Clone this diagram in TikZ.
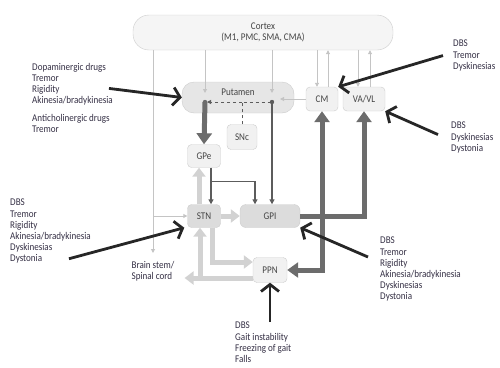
\documentclass[tikz,border=0pt]{standalone}
\usepackage{fontspec}
\setmainfont[FakeStretch=0.88]{Carlito}
\usepackage{tikz}
\usetikzlibrary{arrows.meta,calc}
\definecolor{cortexfill}{HTML}{F5F5F5}
\definecolor{putfill}{HTML}{E6E6E6}
\definecolor{corefill}{HTML}{DCDCDC}
\definecolor{boxfill}{HTML}{F1F1F1}
\definecolor{boxline}{HTML}{CCCCCC}
\definecolor{lightline}{HTML}{C4C4C4}
\definecolor{paleline}{HTML}{D2D2D2}
\definecolor{darkline}{HTML}{6C6C6C}
\definecolor{midline}{HTML}{5C5C5C}
\definecolor{notetext}{HTML}{342F44}
\definecolor{labeltext}{HTML}{444444}
\tikzset{region/.style = {shape=rectangle,rounded corners=4pt,draw=boxline,fill=boxfill,text=labeltext,inner sep=0pt,minimum height=23pt}}
\tikzset{note/.style = {align=left,anchor=north west,text=notetext,inner sep=0pt}}
\tikzset{feed/.style = {-{Triangle[length=4pt,width=4pt]},draw=lightline,line width=0.9pt}}
\tikzset{pale/.style = {-{Triangle[length=9pt,width=13pt]},draw=paleline,line width=5pt}}
\tikzset{heavy/.style = {-{Triangle[length=11pt,width=15pt]},draw=darkline,line width=5pt}}
\tikzset{link/.style = {-{Triangle[length=5pt,width=5pt]},draw=midline,line width=1.5pt}}
\tikzset{dopa/.style = {draw=midline,line width=1pt,dash pattern=on 3pt off 3pt}}
\tikzset{therapy/.style = {-{Straight Barb[length=7pt,width=18pt]},draw=black!85,line width=2.8pt}}

\begin{document}
\begin{tikzpicture}[x=1pt,y=-1pt,font=\fontsize{10.3}{11.2}\selectfont]

\useasboundingbox (0,0) rectangle (500,367);

\node[region,fill=cortexfill,rounded corners=16pt,minimum width=260pt,minimum height=35pt,align=center] (cortex) at (263,32.5) {Cortex\\(M1, PMC, SMA, CMA)};
\node[region,fill=putfill,rounded corners=12pt,minimum width=112pt,minimum height=31pt,label={[anchor=north,yshift=-4pt,text=labeltext]north:Putamen}] (putamen) at (238,97.5) {};
\node[region,minimum width=32pt,minimum height=24pt] (cm) at (322,99) {CM};
\node[region,minimum width=42pt,minimum height=24pt] (vavl) at (364,99) {VA/VL};
\node[region,minimum width=30pt,minimum height=25pt] (snc) at (242,137) {SNc};
\node[region,minimum width=33pt] (gpe) at (204,156) {GPe};
\node[region,fill=corefill,minimum width=33pt] (stn) at (204,216) {STN};
\node[region,fill=corefill,rounded corners=6pt,minimum width=60pt] (gpi) at (270,216) {GPI};
\node[region,minimum width=34pt,minimum height=25pt] (ppn) at (270,270) {PPN};
\node[note,anchor=north] (brainstem) at (153,261) {Brain stem/\\Spinal cord};

\node[note] (dopa) at (32,63) {Dopaminergic drugs\\Tremor\\Rigidity\\Akinesia/bradykinesia};
\node[note] (anticho) at (32,114) {Anticholinergic drugs\\Tremor};
\node[note] (dbsa) at (453,40) {DBS\\Tremor\\Dyskinesias};
\node[note] (dbsb) at (451,122) {DBS\\Dyskinesias\\Dystonia};
\node[note] (dbsc) at (10,199) {DBS\\Tremor\\Rigidity\\Akinesia/bradykinesia\\Dyskinesias\\Dystonia};
\node[note] (dbsd) at (380,237) {DBS\\Tremor\\Rigidity\\Akinesia/bradykinesia\\Dyskinesias\\Dystonia};
\node[note] (dbse) at (235,322) {DBS\\Gait instability\\Freezing of gait\\Falls};

\coordinate (pl) at (205,102);
\coordinate (pr) at (272,102);

\draw[feed] (cortex.south -| brainstem.north) -- ($(brainstem.north)+(0,-8)$);
\draw[feed] (stn.west -| brainstem.north) -- (stn.west);
\draw[feed] (cortex.south -| pl) -- ($(pl)+(0,-9)$);
\draw[feed] (cortex.south -| pr) -- ($(pr)+(0,-9)$);
\draw[feed] ($(cm.north |- cortex.south)+(-5,0)$) -- ($(cm.north)+(-5,0)$);
\draw[feed] ($(cm.north)+(6,0)$) -- ($(cm.north |- cortex.south)+(6,0)$);
\draw[feed] ($(vavl.north |- cortex.south)+(-6,0)$) -- ($(vavl.north)+(-6,0)$);
\draw[feed] ($(vavl.north)+(6,0)$) -- ($(vavl.north |- cortex.south)+(6,0)$);
\draw[feed] (cm.west) -- ($(cm.west -| pr)+(8,0)$);

\draw[dopa] (snc.north) -- (snc.north |- pl) -- (pr);
\draw[dopa,-{Triangle[length=4pt,width=4pt]}] (snc.north |- pl) -- ($(pl)+(2,0)$);

\draw[heavy] (pl) -- (gpe.north);
\draw[link] (pr) -- (gpi.north -| pr);
\fill[darkline] (pl) circle (2.2pt);
\fill[midline] (pr) circle (2.2pt);

\draw[link] ($(gpe.south)+(7,0)$) -- ($(stn.north)+(7,0)$);
\draw[link] ($(gpe.south)+(7,14)$) -| ($(gpi.north)+(-15,0)$);

\draw[pale] ($(stn.north)+(-5,0)$) -- ($(gpe.south)+(-5,0)$);
\draw[pale] (stn.east) -- (gpi.west);
\draw[pale] ($(stn.south)+(8,0)$) |- ($(ppn.west)+(0,-8)$);
\draw[pale] ($(ppn.west)+(0,8)$) -- ($(ppn.west -| brainstem.east)+(10,8)$);
\draw[pale] ($(ppn.west -| stn.south)+(-4,8)$) -- ($(stn.south)+(-4,0)$);

\draw[heavy] (gpi.east) -| (vavl.south);
\draw[heavy] (gpi.east -| cm.south) -- (cm.south);
\draw[heavy] (gpi.east -| cm.south) |- (ppn.east);

\draw[therapy] ($(dopa.east)+(-4,4)$) -- (putamen.west);
\draw[therapy] ($(dbsa.west)+(-10,0)$) -- (cm.north east);
\draw[therapy] ($(dbsb.west)+(-13,-3)$) -- (vavl.south east);
\draw[therapy] ($(dbsc.south east)+(-22,-5)$) -- ($(stn.south west)+(-3,0)$);
\draw[therapy] ($(dbsd.north west)+(-12,20)$) -- (gpi.south east);
\draw[therapy] (ppn.south |- dbse.north) -- (ppn.south);

\end{tikzpicture}
\end{document}
